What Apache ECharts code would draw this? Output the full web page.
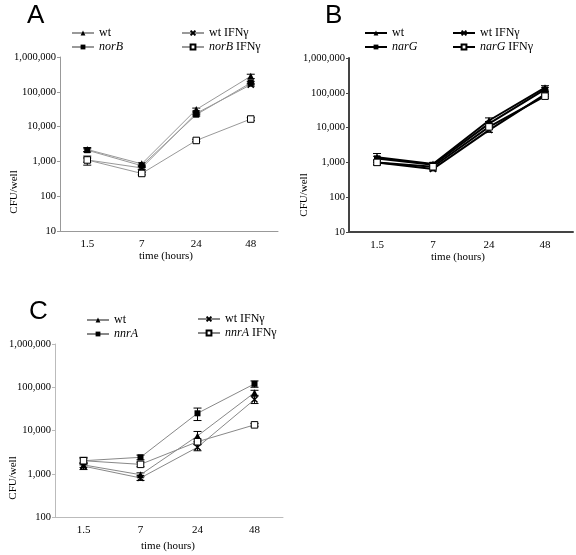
<!DOCTYPE html>
<html><head><meta charset="utf-8">
<script src="https://cdn.jsdelivr.net/npm/echarts@6/dist/echarts.min.js"></script>
<style>html,body{margin:0;padding:0;background:#fff}#c{width:576px;height:555px}</style>
</head><body><div id="c"></div>
<script>
// categories (time, hours)
const categories = ['1.5', '7', '24', '48'];

// Panel A (norB)
const aWt        = [2200, 850, 31000, 280000];
const aWtErr     = [300, 80, 3000, 40000];
const aNorB      = [2100, 750, 22000, 180000];
const aNorBErr   = [200, 80, 2000, 20000];
const aWtIfn     = [1100, 650, 24000, 160000];
const aWtIfnErr  = [150, 60, 2000, 15000];
const aNorBIfn   = [1100, 450, 4000, 16500];
const aNorBIfnErr= [320, 40, 300, 1500];

// Panel B (narG)
const bWt        = [1400, 900, 16000, 140000];
const bWtErr     = [400, 100, 3000, 20000];
const bNarG      = [1300, 850, 13000, 125000];
const bNarGErr   = [200, 100, 2000, 15000];
const bWtIfn     = [1000, 650, 8500, 90000];
const bWtIfnErr  = [150, 80, 1200, 10000];
const bNarGIfn   = [1000, 750, 10500, 80000];
const bNarGIfnErr= [150, 80, 1500, 10000];

// Panel C (nnrA)
const cWt        = [1600, 950, 7500, 75000];
const cWtErr     = [200, 100, 2000, 10000];
const cNnrA      = [2000, 2400, 25000, 120000];
const cNnrAErr   = [400, 300, 8000, 20000];
const cWtIfn     = [1500, 800, 4100, 52000];
const cWtIfnErr  = [250, 100, 700, 10000];
const cNnrAIfn   = [2000, 1650, 5500, 13500];
const cNnrAIfnErr= [300, 200, 800, 1000];

const SERIF = '"Liberation Serif","DejaVu Serif",serif';
const SANS = '"Liberation Sans",Arial,sans-serif';

const legendText = {
  'A|wt': 'wt', 'A|norB': '{i|norB}', 'A|wtI': 'wt IFNγ', 'A|norBI': '{i|norB} IFNγ',
  'B|wt': 'wt', 'B|narG': '{i|narG}', 'B|wtI': 'wt IFNγ', 'B|narGI': '{i|narG} IFNγ',
  'C|wt': 'wt', 'C|nnrA': '{i|nnrA}', 'C|wtI': 'wt IFNγ', 'C|nnrAI': '{i|nnrA} IFNγ'
};

const SYM = {
  tri:  {symbol: 'triangle', size: 7, item: {color: '#000'}},
  sq:   {symbol: 'rect', size: 6, item: {color: '#000'}},
  x:    {symbol: 'path://M0,0L10,10M10,0L0,10', size: 6, item: {color: '#000', borderColor: '#000', borderWidth: 1.5}},
  osq:  {symbol: 'rect', size: 6.5, item: {color: '#fff', borderColor: '#000', borderWidth: 1}}
};

function lineSeries(name, idx, vals, sym, lw, lc) {
  const s = SYM[sym];
  return {
    name: name, type: 'line', xAxisIndex: idx, yAxisIndex: idx,
    data: vals, symbol: s.symbol, symbolSize: s.size, showAllSymbol: true,
    itemStyle: Object.assign({}, s.item),
    lineStyle: {color: lc, width: lw},
    z: 3, animation: false
  };
}

function errRender(params, api) {
  const x = api.value(0), lo = api.value(1), hi = api.value(2);
  const p1 = api.coord([x, lo]), p2 = api.coord([x, hi]);
  const w = 4;
  const st = {stroke: '#000', lineWidth: 1};
  return {type: 'group', children: [
    {type: 'line', shape: {x1: p1[0], y1: p1[1], x2: p2[0], y2: p2[1]}, style: st},
    {type: 'line', shape: {x1: p1[0] - w, y1: p1[1], x2: p1[0] + w, y2: p1[1]}, style: st},
    {type: 'line', shape: {x1: p2[0] - w, y1: p2[1], x2: p2[0] + w, y2: p2[1]}, style: st}
  ]};
}

function errSeries(idx, vals, errs) {
  return {
    type: 'custom', xAxisIndex: idx, yAxisIndex: idx, renderItem: errRender,
    data: vals.map((v, i) => [i, v - errs[i], v + errs[i]]),
    encode: {x: 0, y: [1, 2]}, z: 2, silent: true, animation: false
  };
}

function xAxis(idx, axisColor, axisW) {
  return {
    type: 'category', gridIndex: idx, data: categories, boundaryGap: true,
    axisLine: {lineStyle: {color: axisColor, width: axisW}},
    axisTick: {inside: true, length: 4, lineStyle: {color: axisColor, width: axisW > 1 ? 1.5 : 1}},
    axisLabel: {color: '#000', fontFamily: SERIF, fontSize: 11, margin: 8},
    splitLine: {show: false}
  };
}
function yAxis(idx, min, axisColor, axisW) {
  return {
    type: 'log', logBase: 10, gridIndex: idx, min: min, max: 1000000,
    axisLine: {show: true, lineStyle: {color: axisColor, width: axisW}},
    axisTick: {show: true, length: 3, lineStyle: {color: axisColor}},
    minorTick: {show: false},
    axisLabel: {color: '#000', fontFamily: SERIF, fontSize: 10.5, margin: 4,
      formatter: v => Math.round(v).toLocaleString('en-US')},
    splitLine: {show: false}
  };
}

function legend(left, top, names) {
  return {
    left: left, top: top, orient: 'vertical', itemGap: 2, itemWidth: 22, itemHeight: 6,
    data: names, formatter: n => legendText[n], selectedMode: false,
    textStyle: {color: '#000', fontFamily: SERIF, fontSize: 12,
      rich: {i: {fontStyle: 'italic', fontFamily: SERIF, fontSize: 12, color: '#000'}}}
  };
}

const gA = '#999', gC = '#888';
const option = {
  backgroundColor: '#fff',
  animation: false,
  grid: [
    {left: 60, top: 57, width: 218, height: 174},
    {left: 349, top: 58, width: 224, height: 174},
    {left: 55, top: 344, width: 228, height: 173}
  ],
  xAxis: [xAxis(0, '#999', 1), xAxis(1, '#444', 2), xAxis(2, '#bbb', 1)],
  yAxis: [yAxis(0, 10, '#999', 1), yAxis(1, 10, '#444', 2), yAxis(2, 100, '#bbb', 1)],
  legend: [
    legend(66, 22, ['A|wt', 'A|norB']),
    legend(176, 22, ['A|wtI', 'A|norBI']),
    legend(359, 22, ['B|wt', 'B|narG']),
    legend(447, 22, ['B|wtI', 'B|narGI']),
    legend(81, 309, ['C|wt', 'C|nnrA']),
    legend(192, 308, ['C|wtI', 'C|nnrAI'])
  ],
  graphic: [
    {type: 'text', left: 27, top: 3, style: {text: 'A', font: '26px ' + SANS, fill: '#000'}},
    {type: 'text', left: 325, top: 3, style: {text: 'B', font: '26px ' + SANS, fill: '#000'}},
    {type: 'text', left: 29, top: 299, style: {text: 'C', font: '26px ' + SANS, fill: '#000'}},
    {type: 'text', x: 14, y: 192, rotation: Math.PI / 2, style: {text: 'CFU/well', font: '11px ' + SERIF, fill: '#000', align: 'center', verticalAlign: 'middle'}},
    {type: 'text', x: 304, y: 195, rotation: Math.PI / 2, style: {text: 'CFU/well', font: '11px ' + SERIF, fill: '#000', align: 'center', verticalAlign: 'middle'}},
    {type: 'text', x: 13, y: 478, rotation: Math.PI / 2, style: {text: 'CFU/well', font: '11px ' + SERIF, fill: '#000', align: 'center', verticalAlign: 'middle'}},
    {type: 'text', x: 166, y: 256, style: {text: 'time (hours)', font: '11px ' + SERIF, fill: '#000', align: 'center', verticalAlign: 'middle'}},
    {type: 'text', x: 458, y: 257, style: {text: 'time (hours)', font: '11px ' + SERIF, fill: '#000', align: 'center', verticalAlign: 'middle'}},
    {type: 'text', x: 168, y: 546, style: {text: 'time (hours)', font: '11px ' + SERIF, fill: '#000', align: 'center', verticalAlign: 'middle'}}
  ],
  series: [
    errSeries(0, aWt, aWtErr), errSeries(0, aNorB, aNorBErr), errSeries(0, aWtIfn, aWtIfnErr), errSeries(0, aNorBIfn, aNorBIfnErr),
    lineSeries('A|wt', 0, aWt, 'tri', 1, gA),
    lineSeries('A|norB', 0, aNorB, 'sq', 1, gA),
    lineSeries('A|wtI', 0, aWtIfn, 'x', 1, gA),
    lineSeries('A|norBI', 0, aNorBIfn, 'osq', 1, gA),
    errSeries(1, bWt, bWtErr), errSeries(1, bNarG, bNarGErr), errSeries(1, bWtIfn, bWtIfnErr), errSeries(1, bNarGIfn, bNarGIfnErr),
    lineSeries('B|wt', 1, bWt, 'tri', 2, '#000'),
    lineSeries('B|narG', 1, bNarG, 'sq', 2, '#000'),
    lineSeries('B|wtI', 1, bWtIfn, 'x', 2, '#000'),
    lineSeries('B|narGI', 1, bNarGIfn, 'osq', 2, '#000'),
    errSeries(2, cWt, cWtErr), errSeries(2, cNnrA, cNnrAErr), errSeries(2, cWtIfn, cWtIfnErr), errSeries(2, cNnrAIfn, cNnrAIfnErr),
    lineSeries('C|wt', 2, cWt, 'tri', 1, gC),
    lineSeries('C|nnrA', 2, cNnrA, 'sq', 1, gC),
    lineSeries('C|wtI', 2, cWtIfn, 'x', 1, gC),
    lineSeries('C|nnrAI', 2, cNnrAIfn, 'osq', 1, gC)
  ]
};
const chart = echarts.init(document.getElementById('c'), null, {renderer: 'canvas'});
chart.setOption(option);
</script>
</body></html>
